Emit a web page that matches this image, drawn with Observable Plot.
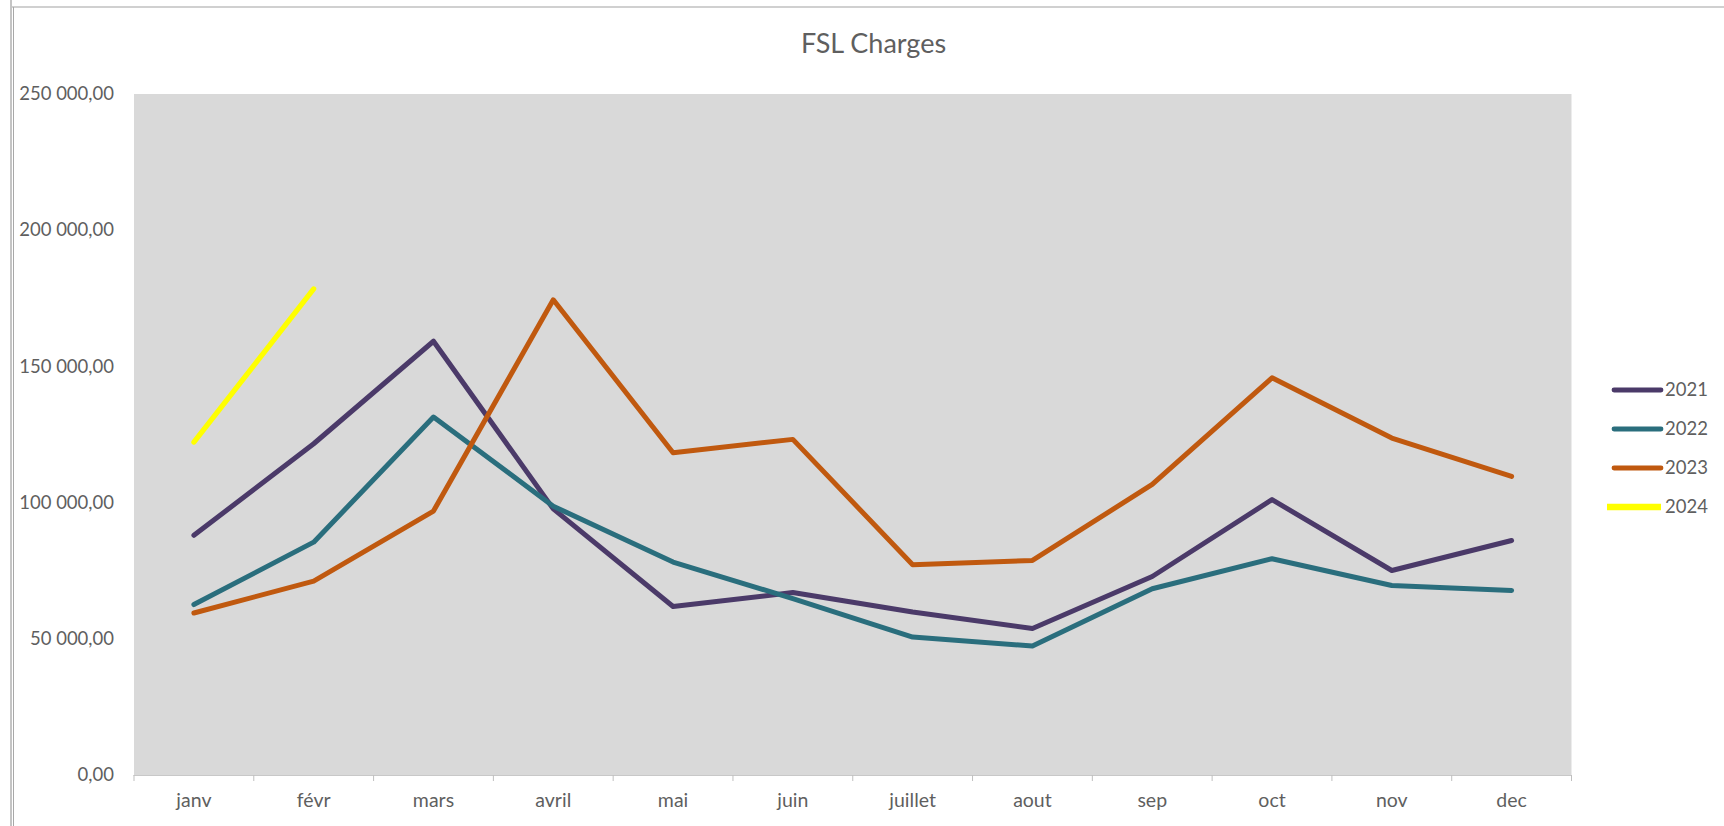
<!DOCTYPE html>
<html>
<head>
<meta charset="utf-8">
<script src="https://cdn.jsdelivr.net/npm/d3@7"></script>
<script src="https://cdn.jsdelivr.net/npm/@observablehq/plot@0.6"></script>
<style>
  html, body { margin: 0; padding: 0; background: #ffffff; }
  #wrap { position: relative; width: 1724px; height: 826px; overflow: hidden; font-family: Lato, "Open Sans", sans-serif; }
  #wrap svg { position: absolute; left: 0; top: 0; }
</style>
</head>
<body>
<div id="wrap"></div>
<script>
// ---- data ----
const months = ["janv", "févr", "mars", "avril", "mai", "juin", "juillet", "aout", "sep", "oct", "nov", "dec"];
const years = ["2021", "2022", "2023", "2024"];
const v2021 = [88100, 121700, 159300, 97800, 62000, 67100, 60000, 53900, 73000, 101200, 75200, 86200];
const v2022 = [62700, 85600, 131500, 98800, 78300, 64900, 50800, 47500, 68500, 79500, 69700, 67900];
const v2023 = [59600, 71300, 97000, 174500, 118400, 123300, 77300, 78900, 106800, 145900, 123800, 109700];
const v2024 = [122300, 178500];
const yTicks = [0, 50000, 100000, 150000, 200000, 250000];
const title = "FSL Charges";
const colors = ["#4b3a69", "#2a6e7d", "#c0590f", "#ffff00"];

// ---- table built from the arrays ----
const seriesValues = [v2021, v2022, v2023, v2024];
const rows = [];
years.forEach((yr, k) => {
  seriesValues[k].forEach((v, i) => rows.push({ year: yr, i, month: months[i], value: v }));
});

const fr = d3.formatLocale({ decimal: ",", thousands: "\u00a0", grouping: [3], currency: ["", " €"] });
const fmt = fr.format(",.2f");

const W = 1724, H = 826;
const textColor = "#5f5f5f";

const chart = Plot.plot({
  width: W,
  height: H,
  marginLeft: 133.5,
  marginRight: 153,
  marginTop: 93.5,
  marginBottom: 51,
  style: { fontFamily: "Lato, 'Open Sans', sans-serif", background: "transparent", overflow: "visible" },
  x: { type: "linear", domain: [-0.5, months.length - 0.5] },
  y: { type: "linear", domain: [0, 250000] },
  color: { domain: years, range: colors },
  marks: [
    Plot.frame({ fill: "#d9d9d9", stroke: null }),
    Plot.ruleY([0], { stroke: "#c8c8c8", strokeWidth: 1 }),
    Plot.axisY({
      ticks: yTicks, tickSize: 0, tickPadding: 20, tickFormat: fmt,
      fontSize: 18.5, fill: textColor, label: null
    }),
    Plot.axisX({
      ticks: d3.range(-0.5, months.length, 1), tickSize: 6, tickFormat: () => "",
      stroke: "#bfbfbf", label: null
    }),
    Plot.axisX({
      ticks: months.map((_, i) => i), tickSize: 0, tickPadding: 17.5,
      tickFormat: i => months[i], fontSize: 19.5, fill: textColor, label: null
    }),
    Plot.line(rows.filter(d => d.year !== "2024"), {
      x: "i", y: "value", z: "year", stroke: "year",
      strokeWidth: 5, strokeLinecap: "round", strokeLinejoin: "round"
    }),
    Plot.line(rows.filter(d => d.year === "2024"), {
      x: "i", y: "value", z: "year", stroke: "year",
      strokeWidth: 5.2, strokeLinecap: "round", strokeLinejoin: "round"
    })
  ]
});

const wrap = document.getElementById("wrap");
wrap.appendChild(chart);

// ---- overlay: chart border, title, legend ----
const ov = d3.select(wrap).append("svg")
  .attr("width", W).attr("height", H)
  .style("font-family", "Lato, 'Open Sans', sans-serif");

ov.append("line").attr("x1", 12).attr("x2", W).attr("y1", 7).attr("y2", 7)
  .attr("stroke", "#d0d0d0").attr("stroke-width", 2);
ov.append("line").attr("x1", 11).attr("x2", 11).attr("y1", 0).attr("y2", H)
  .attr("stroke", "#8a8a8a").attr("stroke-width", 1);
ov.append("line").attr("x1", 13.5).attr("x2", 13.5).attr("y1", 7).attr("y2", H)
  .attr("stroke", "#a8a8a8").attr("stroke-width", 1);

ov.append("text")
  .attr("x", 873.5).attr("y", 53)
  .attr("text-anchor", "middle")
  .attr("font-size", 27).attr("fill", textColor)
  .text(title);

const lg = ov.append("g");
years.forEach((yr, k) => {
  const y = 390 + 39 * k;
  const isLast = yr === "2024";
  lg.append("line")
    .attr("x1", isLast ? 1607 : 1614).attr("x2", 1661)
    .attr("y1", y).attr("y2", y)
    .attr("stroke", colors[k])
    .attr("stroke-width", isLast ? 6.5 : 4.8)
    .attr("stroke-linecap", isLast ? "butt" : "round");
  lg.append("text")
    .attr("x", 1665).attr("y", y)
    .attr("dy", "0.35em")
    .attr("font-size", 18.5).attr("fill", textColor)
    .text(yr);
});
</script>
</body>
</html>
